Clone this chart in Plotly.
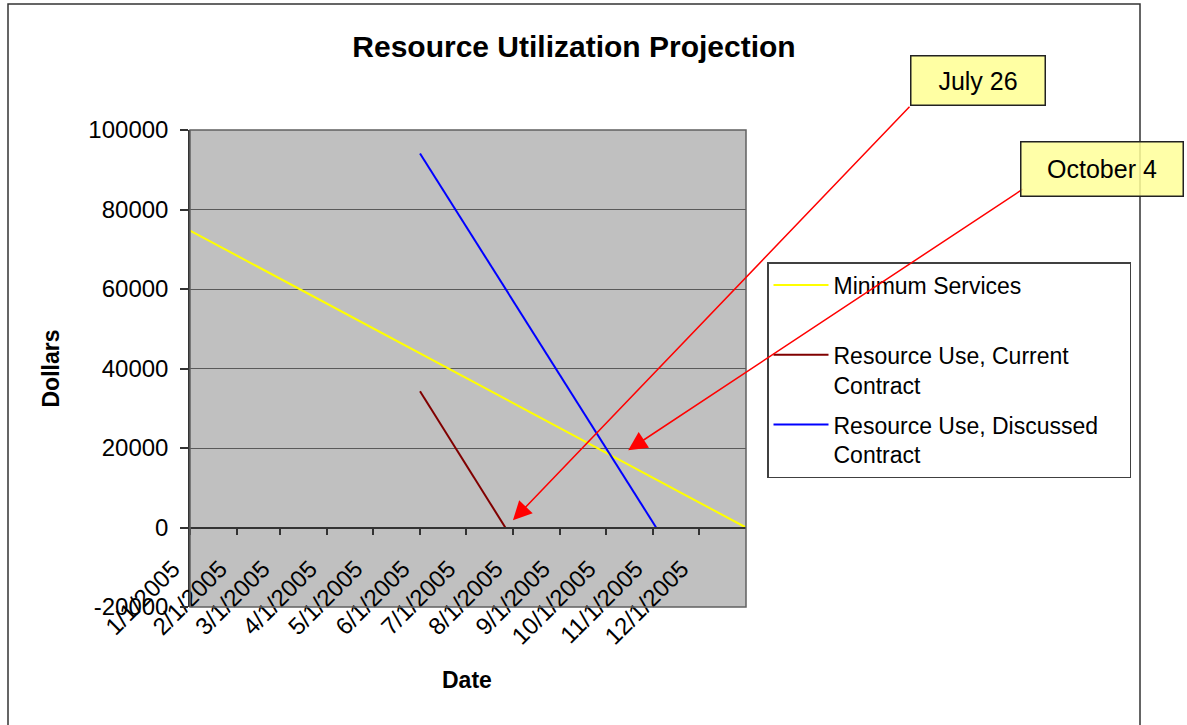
import plotly.graph_objects as go

# ---- data ----
min_dates = ["2005-01-01", "2006-01-01"]
min_vals = [74700, 0]

cur_dates = ["2005-06-01", "2005-07-27"]
cur_vals = [34300, 0]

disc_dates = ["2005-06-01", "2005-11-03"]
disc_vals = [94100, 0]

tick_dates = ["2005-%02d-01" % m for m in range(1, 13)]
tick_labels = ["%d/1/2005" % m for m in range(1, 13)]
y_ticks = [-20000, 0, 20000, 40000, 60000, 80000, 100000]
y_tick_labels = ["-20000", "0", "20000", "40000", "60000", "80000", "100000"]

FONT = "Liberation Sans, Arial, sans-serif"
NB = "\u00a0"

W, H = 1187, 725
L, R, T, B = 190, 746, 130, 607  # plot area in pixels


def px(xp):
    return (xp - L) / (R - L)


def py(yp):
    return (B - yp) / (B - T)


fig = go.Figure()
fig.add_trace(go.Scatter(x=min_dates, y=min_vals, mode="lines", name="Minimum Services<br>" + NB,
                         line=dict(color="#FFFF00", width=2), legendgroup="a"))
fig.add_trace(go.Scatter(x=cur_dates, y=cur_vals, mode="lines", name="Resource Use, Current<br>Contract",
                         line=dict(color="#800000", width=2), legendgroup="b"))
fig.add_trace(go.Scatter(x=disc_dates, y=disc_vals, mode="lines",
                         name="Resource Use, Discussed" + NB * 4 + "<br>Contract",
                         line=dict(color="#0000FF", width=2), legendgroup="c"))

fig.update_layout(
    width=W, height=H,
    margin=dict(l=L, r=W - R, t=T, b=H - B, pad=0),
    paper_bgcolor="white",
    plot_bgcolor="#C0C0C0",
    font=dict(family=FONT, size=24, color="black"),
    showlegend=True,
    title=dict(text="<b>Resource Utilization Projection</b>", font=dict(size=30, family=FONT),
               xref="container", yref="container", x=574 / W, y=1 - 46 / H,
               xanchor="center", yanchor="middle"),
    legend=dict(x=px(767), y=py(262), xanchor="left", yanchor="top",
                bgcolor="white", bordercolor="#404040", borderwidth=1.5,
                font=dict(size=23, family=FONT), valign="top",
                itemwidth=55, tracegroupgap=7, itemclick=False),
    xaxis=dict(
        type="date", range=["2005-01-01", "2006-01-01"],
        anchor="free", position=1 / 6,
        tickvals=tick_dates, ticktext=tick_labels, tickangle=-45,
        ticks="outside", ticklen=7, tickwidth=1.5, tickcolor="#333333",
        ticklabelshift=-17, ticklabelstandoff=10,
        showline=True, linecolor="#333333", linewidth=1.5,
        showgrid=False, zeroline=False,
        tickfont=dict(size=24, family=FONT),
    ),
    yaxis=dict(
        range=[-20000, 100000], domain=[0, 1],
        tickvals=y_ticks, ticktext=y_tick_labels,
        ticks="outside", ticklen=8, tickwidth=1.5, tickcolor="#333333",
        ticklabelstandoff=7,
        showline=True, linecolor="#333333", linewidth=1.5,
        showgrid=True, gridcolor="#5a5a5a", gridwidth=1,
        zeroline=False,
        tickfont=dict(size=24, family=FONT),
    ),
)

# plot-area border and outer chart border
fig.add_shape(type="rect", xref="paper", yref="paper", x0=0, x1=1, y0=0, y1=1,
              line=dict(color="#606060", width=1.5), layer="above")
fig.add_shape(type="rect", xref="paper", yref="paper", x0=px(8), x1=px(1140), y0=py(760), y1=py(4),
              line=dict(color="#333333", width=1.5), layer="above")

# axis titles
fig.add_annotation(text="<b>Dollars</b>", xref="paper", yref="paper", x=px(50), y=py(368.5),
                   xanchor="center", yanchor="middle",
                   textangle=-90, showarrow=False, font=dict(size=23, family=FONT))
fig.add_annotation(text="<b>Date</b>", xref="paper", yref="paper", x=px(467), y=py(680),
                   xanchor="center", yanchor="middle",
                   showarrow=False, font=dict(size=23, family=FONT))

# callout arrows
fig.add_annotation(text="", x="2005-08-01", y=1800, xref="x", yref="y",
                   ax=912 - 514, ay=106 - 521, showarrow=True,
                   arrowhead=2, arrowsize=2.5, arrowwidth=1.5, arrowcolor="#FF0000", standoff=0)
fig.add_annotation(text="", x="2005-10-15 16:00", y=19450, xref="x", yref="y",
                   ax=1024 - 628, ay=189 - 451, showarrow=True,
                   arrowhead=2, arrowsize=2.5, arrowwidth=1.5, arrowcolor="#FF0000", standoff=0)

# callout boxes
fig.add_annotation(text="July 26", xref="paper", yref="paper", x=px(978), y=py(80.5),
                   xanchor="center", yanchor="middle",
                   showarrow=False, bgcolor="rgba(255,255,153,0.9)", bordercolor="#222222",
                   borderwidth=1.5, borderpad=0, width=133, height=48,
                   font=dict(size=25, family=FONT))
fig.add_annotation(text="October 4", xref="paper", yref="paper", x=px(1102), y=py(169.5),
                   xanchor="center", yanchor="middle",
                   showarrow=False, bgcolor="rgba(255,255,153,0.85)", bordercolor="#222222",
                   borderwidth=1.5, borderpad=0, width=161, height=53,
                   font=dict(size=25, family=FONT))

fig.write_html("out.html", config={"displayModeBar": False},
               post_script="document.body.style.margin='0';document.body.style.padding='0';")
